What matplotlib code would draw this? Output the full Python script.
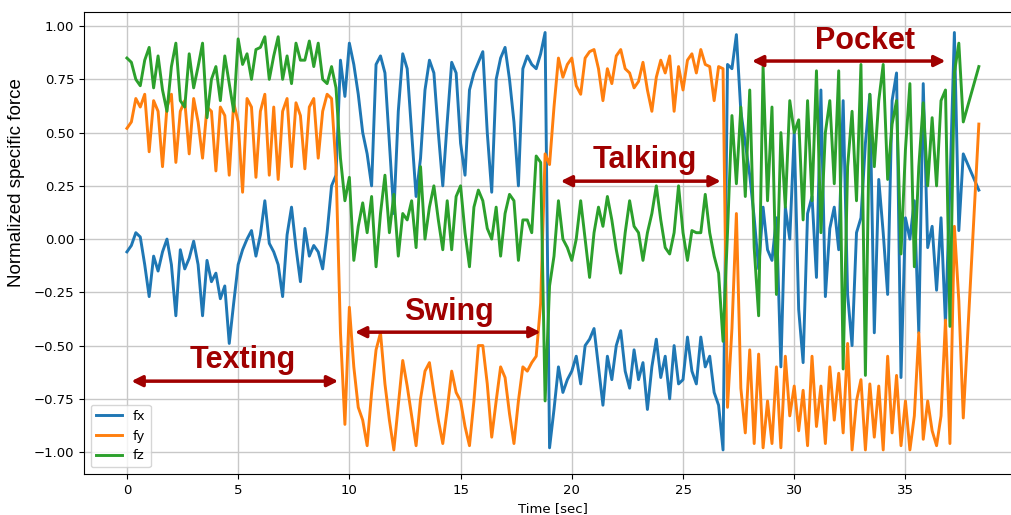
import numpy as np
import matplotlib
matplotlib.use("Agg")
import matplotlib.pyplot as plt

# sample grid of the recording (0.2 s), plus the last logged sample
t = list(np.round(np.arange(0, 37.61, 0.2), 2)) + [38.3]

fx = [-0.06, -0.03, 0.03, 0.01, -0.12, -0.27, -0.08, -0.15, -0.06, 0.0,
      -0.12, -0.36, -0.05, -0.14, -0.09, -0.01, -0.12, -0.36, -0.1, -0.2,
      -0.16, -0.28, -0.22, -0.49, -0.3, -0.12, -0.05, 0.0, 0.04, -0.08,
      0.02, 0.18, -0.02, -0.06, -0.12, -0.27, 0.02, 0.15, -0.04, -0.2,
      0.05, -0.08, -0.03, -0.06, -0.14, 0.03, 0.25, 0.3, 0.84, 0.67,
      0.92, 0.82, 0.68, 0.5, 0.4, 0.25, 0.82, 0.86, 0.78, 0.45,
      0.12, 0.6, 0.87, 0.8, 0.5, 0.2, 0.38, 0.7, 0.84, 0.78,
      0.5, 0.25, 0.55, 0.83, 0.78, 0.45, 0.3, 0.7, 0.78, 0.83,
      0.88, 0.5, 0.22, 0.75, 0.85, 0.9, 0.75, 0.55, 0.25, 0.8,
      0.86, 0.82, 0.8, 0.87, 0.97, -0.98, -0.8, -0.6, -0.72, -0.66,
      -0.62, -0.55, -0.68, -0.5, -0.47, -0.42, -0.6, -0.78, -0.55, -0.66,
      -0.5, -0.43, -0.62, -0.7, -0.52, -0.66, -0.58, -0.8, -0.6, -0.47,
      -0.65, -0.55, -0.75, -0.5, -0.68, -0.66, -0.46, -0.62, -0.68, -0.46,
      -0.6, -0.55, -0.72, -0.78, -0.99, 0.82, 0.8, 0.96, 0.6, 0.45,
      0.3, 0.1, -0.14, 0.15, -0.05, -0.1, 0.1, -0.6, 0.15, 0.0,
      0.5, -0.33, -0.58, 0.12, 0.2, -0.18, 0.7, -0.27, 0.05, 0.15,
      -0.05, 0.65, -0.26, -0.5, 0.03, 0.1, 0.45, 0.68, -0.44, 0.28,
      0.03, -0.26, 0.65, 0.78, -0.65, 0.1, 0.0, 0.18, -0.44, 0.73,
      -0.04, 0.06, -0.24, 0.1, -0.4, 0.25, 0.97, 0.04, 0.4,
      0.23]

fy = [0.52, 0.55, 0.66, 0.62, 0.68, 0.41, 0.65, 0.6, 0.34, 0.62,
      0.68, 0.36, 0.6, 0.65, 0.4, 0.66, 0.55, 0.38, 0.62, 0.6,
      0.32, 0.62, 0.58, 0.3, 0.64, 0.55, 0.22, 0.66, 0.62, 0.29,
      0.6, 0.68, 0.3, 0.62, 0.28, 0.6, 0.66, 0.34, 0.64, 0.58,
      0.33, 0.62, 0.66, 0.38, 0.6, 0.68, 0.66, 0.34, -0.44, -0.87,
      -0.32, -0.6, -0.79, -0.85, -0.97, -0.72, -0.52, -0.44, -0.68, -0.85,
      -0.99, -0.78, -0.57, -0.69, -0.83, -0.97, -0.75, -0.62, -0.58, -0.72,
      -0.85, -0.96, -0.8, -0.62, -0.72, -0.76, -0.88, -0.97, -0.76, -0.5,
      -0.5, -0.68, -0.93, -0.76, -0.6, -0.65, -0.82, -0.96, -0.76, -0.6,
      -0.62, -0.58, -0.55, -0.3, 0.4, 0.35, 0.62, 0.85, 0.76, 0.82,
      0.85, 0.72, 0.68, 0.85, 0.88, 0.89, 0.8, 0.65, 0.8, 0.73,
      0.86, 0.89, 0.8, 0.78, 0.71, 0.74, 0.83, 0.7, 0.6, 0.76,
      0.84, 0.78, 0.86, 0.6, 0.81, 0.7, 0.84, 0.87, 0.78, 0.89,
      0.82, 0.81, 0.65, 0.81, 0.8, -0.79, -0.42, 0.12, -0.7, -0.91,
      -0.52, -0.96, -0.54, -0.98, -0.76, -0.96, -0.6, -0.98, -0.55, -0.83,
      -0.69, -0.9, -0.71, -0.97, -0.55, -0.88, -0.69, -0.96, -0.6, -0.85,
      -0.63, -0.91, -0.49, -0.99, -0.76, -0.66, -0.99, -0.68, -0.93, -0.69,
      -0.99, -0.55, -0.91, -0.64, -0.97, -0.76, -0.99, -0.83, -0.44, -0.94,
      -0.76, -0.9, -0.97, -0.83, -0.38, -0.96, 0.06, -0.29, -0.84,
      0.54]

fz = [0.85, 0.83, 0.75, 0.72, 0.84, 0.9, 0.71, 0.86, 0.7, 0.6,
      0.81, 0.92, 0.65, 0.62, 0.87, 0.71, 0.81, 0.92, 0.57, 0.75,
      0.81, 0.65, 0.86, 0.73, 0.6, 0.94, 0.82, 0.87, 0.75, 0.89,
      0.9, 0.95, 0.75, 0.86, 0.95, 0.75, 0.86, 0.73, 0.92, 0.84,
      0.84, 0.93, 0.81, 0.92, 0.75, 0.73, 0.81, 0.71, 0.38, 0.18,
      0.29, -0.1, 0.06, 0.17, 0.03, 0.2, -0.13, 0.12, 0.3, 0.03,
      0.21, -0.08, 0.12, 0.09, 0.18, -0.04, 0.34, 0.0, 0.15, 0.25,
      0.09, -0.05, 0.18, -0.05, 0.2, 0.25, 0.03, -0.13, 0.15, 0.23,
      0.18, 0.05, 0.0, 0.15, -0.08, 0.12, 0.21, 0.18, -0.1, 0.09,
      0.09, 0.03, 0.39, 0.36, -0.76, -0.22, -0.08, 0.18, 0.0, -0.04,
      -0.1, 0.0, 0.18, 0.0, -0.18, 0.03, 0.15, 0.06, 0.2, 0.09,
      -0.05, -0.16, 0.03, 0.18, 0.06, 0.03, -0.1, 0.03, 0.12, 0.25,
      0.09, -0.04, -0.07, 0.03, 0.25, 0.03, -0.1, 0.04, 0.03, 0.03,
      0.21, 0.03, -0.08, -0.16, -0.48, 0.03, 0.58, 0.26, 0.62, 0.2,
      0.7, -0.04, -0.36, 0.81, 0.18, 0.62, -0.26, 0.5, 0.15, 0.65,
      0.5, 0.56, 0.09, 0.65, 0.18, 0.79, 0.03, 0.5, 0.65, 0.26,
      0.79, -0.61, 0.34, 0.6, 0.18, 0.82, -0.64, 0.68, 0.34, 0.65,
      0.82, 0.28, 0.54, 0.65, -0.07, 0.42, 0.73, -0.13, 0.34, 0.64,
      0.25, 0.57, 0.25, 0.65, 0.7, -0.41, 0.78, 0.92, 0.55,
      0.81]

# activity segments: label, arrow start, arrow end, arrow height, text position
activities = ["Texting", "Swing", "Talking", "Pocket"]
arrow_from = [0.2, 10.25, 19.5, 28.1]
arrow_to = [9.5, 18.6, 26.7, 36.8]
arrow_y = [-0.667, -0.437, 0.272, 0.836]
label_x = [5.2, 14.5, 23.3, 33.2]
label_y = [-0.57, -0.34, 0.37, 0.93]

dark_red = "#a00000"

fig = plt.figure(figsize=(10.12, 5.15), dpi=100)
ax = fig.add_axes([0.083, 0.0796, 0.926, 0.897])

ax.plot(t, fx, color="tab:blue", lw=2.1, label="fx")
ax.plot(t, fy, color="tab:orange", lw=2.1, label="fy")
ax.plot(t, fz, color="tab:green", lw=2.1, label="fz")

for name, x0, x1, ya, tx, ty in zip(activities, arrow_from, arrow_to,
                                    arrow_y, label_x, label_y):
    ax.annotate("", xy=(x1, ya), xytext=(x0, ya),
                arrowprops=dict(arrowstyle="<|-|>", color=dark_red, lw=2.5,
                                mutation_scale=16, shrinkA=0, shrinkB=0))
    ax.text(tx, ty, name, color=dark_red, fontsize=22, fontweight="bold",
            family="Liberation Sans", ha="center", va="center")

ax.set_xlim(-1.93, 40.2)
ax.set_ylim(-1.103, 1.066)
ax.set_xticks(np.arange(0, 36, 5))
ax.set_yticks(np.arange(-1.0, 1.01, 0.25))
ax.tick_params(labelsize=9.5)
ax.grid(True, color="#c8c8c8", lw=1.0)
ax.set_xlabel("Time [sec]", fontsize=9.5)
ax.set_ylabel("Normalized specific force", fontsize=13.5, family="Liberation Sans")
ax.yaxis.set_label_coords(-0.063, 0.63)
ax.legend(loc="lower left", fontsize=9.5)

fig.savefig("out.png", dpi=100)
